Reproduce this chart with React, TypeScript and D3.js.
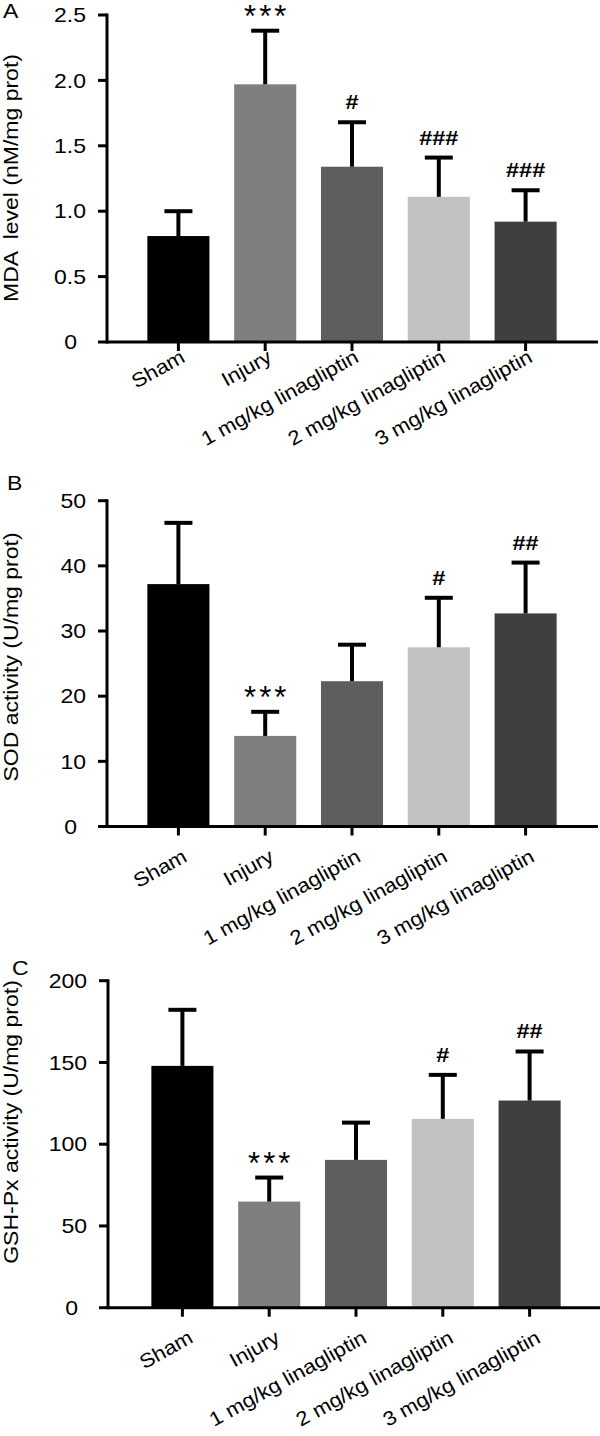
import React from "react";
import * as d3 from "d3";

// ---------- data ----------
const categories = [
  "Sham",
  "Injury",
  "1 mg/kg linagliptin",
  "2 mg/kg linagliptin",
  "3 mg/kg linagliptin",
];
const barColors = ["#000000", "#7f7f7f", "#5e5e5e", "#c2c2c2", "#3f3f3f"];

const mdaMean = [0.81, 1.97, 1.34, 1.11, 0.92];
const mdaSD = [0.19, 0.41, 0.34, 0.3, 0.24];
const mdaMarks = ["", "***", "#", "###", "###"];
const mdaTicks = [0, 0.5, 1.0, 1.5, 2.0, 2.5];

const sodMean = [37.2, 13.9, 22.3, 27.5, 32.7];
const sodSD = [9.4, 3.7, 5.6, 7.6, 7.8];
const sodMarks = ["", "***", "", "#", "##"];
const sodTicks = [0, 10, 20, 30, 40, 50];

const gshMean = [147.9, 64.9, 90.4, 115.5, 126.7];
const gshSD = [34.3, 14.7, 22.8, 26.9, 30.0];
const gshMarks = ["", "***", "", "#", "##"];
const gshTicks = [0, 50, 100, 150, 200];

const FONT = "'Liberation Sans', Arial, Helvetica, sans-serif";
const FS = 20;
const SX = 1.15;
const SX_LAB = 1.1;
const ANGLE = -29;

function Panel(props: any) {
  const {
    letter, letterPos, title, titleY, means, sds, marks, ticks, fmt,
    top, base, axisX, axisEnd, bandRange, xlab,
  } = props;
  const yMax = ticks[ticks.length - 1];
  const y = d3.scaleLinear().domain([0, yMax]).range([base, top]);
  const x = d3
    .scaleBand<string>()
    .domain(categories)
    .range(bandRange)
    .paddingInner(0.285)
    .paddingOuter(0.1425);
  const bw = x.bandwidth();
  return (
    <g>
      <text
        transform={`translate(${letterPos[0]},${letterPos[1]}) scale(${SX},1)`}
        fontFamily={FONT}
        fontSize={FS}
        fill="#000"
      >
        {letter}
      </text>
      <text
        transform={`translate(18,${titleY}) rotate(-90) scale(${SX},1)`}
        textAnchor="middle"
        fontFamily={FONT}
        fontSize={FS}
        fill="#000"
        style={{ whiteSpace: "pre" }}
      >
        {title}
      </text>
      {/* bars */}
      {categories.map((c, i) => (
        <rect
          key={"b" + i}
          x={x(c)}
          y={y(means[i])}
          width={bw}
          height={base - y(means[i])}
          fill={barColors[i]}
        />
      ))}
      {/* error bars */}
      {categories.map((c, i) => {
        const cx = (x(c) as number) + bw / 2;
        const yt = y(means[i] + sds[i]);
        return (
          <g key={"e" + i} stroke="#000" strokeWidth={4}>
            <line x1={cx} x2={cx} y1={y(means[i])} y2={yt} />
            <line x1={cx - 14} x2={cx + 14} y1={yt} y2={yt} />
          </g>
        );
      })}
      {/* significance marks */}
      {categories.map((c, i) => {
        const m = marks[i];
        if (!m) return null;
        const cx = (x(c) as number) + bw / 2;
        const yt = y(means[i] + sds[i]);
        if (m[0] === "*") {
          return (
            <text
              key={"m" + i}
              x={cx + 1.5}
              y={yt - 4}
              textAnchor="middle"
              fontFamily={FONT}
              fontSize={31}
              letterSpacing={3}
              fill="#000"
            >
              {m}
            </text>
          );
        }
        return (
          <text
            key={"m" + i}
            transform={`translate(${cx},${yt - 13}) scale(1.12,1)`}
            textAnchor="middle"
            fontFamily={FONT}
            fontWeight="bold"
            fontSize={21}
            fill="#000"
          >
            {m}
          </text>
        );
      })}
      {/* y axis */}
      <line x1={axisX} x2={axisX} y1={top - 1.5} y2={base + 1.5} stroke="#000" strokeWidth={3} />
      {ticks.map((t: number) => (
        <g key={"t" + t}>
          <line x1={axisX - 9} x2={axisX} y1={y(t)} y2={y(t)} stroke="#000" strokeWidth={3} />
          <text
            transform={`translate(${t === 0 ? axisX - 30 : axisX - 21},${y(t)}) scale(${SX},1)`}
            dy="0.36em"
            textAnchor="end"
            fontFamily={FONT}
            fontSize={FS}
            fill="#000"
          >
            {fmt(t)}
          </text>
        </g>
      ))}
      {/* x axis */}
      <line x1={axisX} x2={axisEnd} y1={base} y2={base} stroke="#000" strokeWidth={3} />
      {categories.map((c, i) => {
        const cx = (x(c) as number) + bw / 2;
        return (
          <g key={"x" + i}>
            <line x1={cx} x2={cx} y1={base} y2={base + 9} stroke="#000" strokeWidth={3} />
            <text
              transform={`translate(${cx + xlab[0]},${base + xlab[1]}) rotate(${ANGLE}) scale(${SX_LAB},1)`}
              textAnchor="end"
              fontFamily={FONT}
              fontSize={FS}
              fill="#000"
            >
              {c}
            </text>
          </g>
        );
      })}
    </g>
  );
}

export default function App() {
  const f1 = (d: number) => (d === 0 ? "0" : d3.format(".1f")(d));
  const f0 = (d: number) => d3.format("d")(d);
  return (
    <svg
      width={600}
      height={1436}
      style={{ position: "absolute", left: 0, top: 0, background: "#fff" }}
    >
      <rect width={600} height={1436} fill="#fff" />
      <Panel
        letter="A"
        letterPos={[3, 18]}
        title={"MDA  level (nM/mg prot)"}
        titleY={178}
        means={mdaMean}
        sds={mdaSD}
        marks={mdaMarks}
        ticks={mdaTicks}
        fmt={f1}
        top={15}
        base={342}
        axisX={107}
        axisEnd={598}
        bandRange={[135, 569]}
        xlab={[8, 19]}
      />
      <Panel
        letter="B"
        letterPos={[7, 490]}
        title={"SOD activity (U/mg prot)"}
        titleY={657}
        means={sodMean}
        sds={sodSD}
        marks={sodMarks}
        ticks={sodTicks}
        fmt={f0}
        top={500.7}
        base={826.5}
        axisX={107}
        axisEnd={598}
        bandRange={[135, 569]}
        xlab={[10, 34]}
      />
      <Panel
        letter="C"
        letterPos={[12, 975]}
        title={"GSH-Px activity (U/mg prot)"}
        titleY={1122}
        means={gshMean}
        sds={gshSD}
        marks={gshMarks}
        ticks={gshTicks}
        fmt={f0}
        top={980.7}
        base={1307.7}
        axisX={108}
        axisEnd={600}
        bandRange={[139, 573]}
        xlab={[12, 34]}
      />
    </svg>
  );
}
